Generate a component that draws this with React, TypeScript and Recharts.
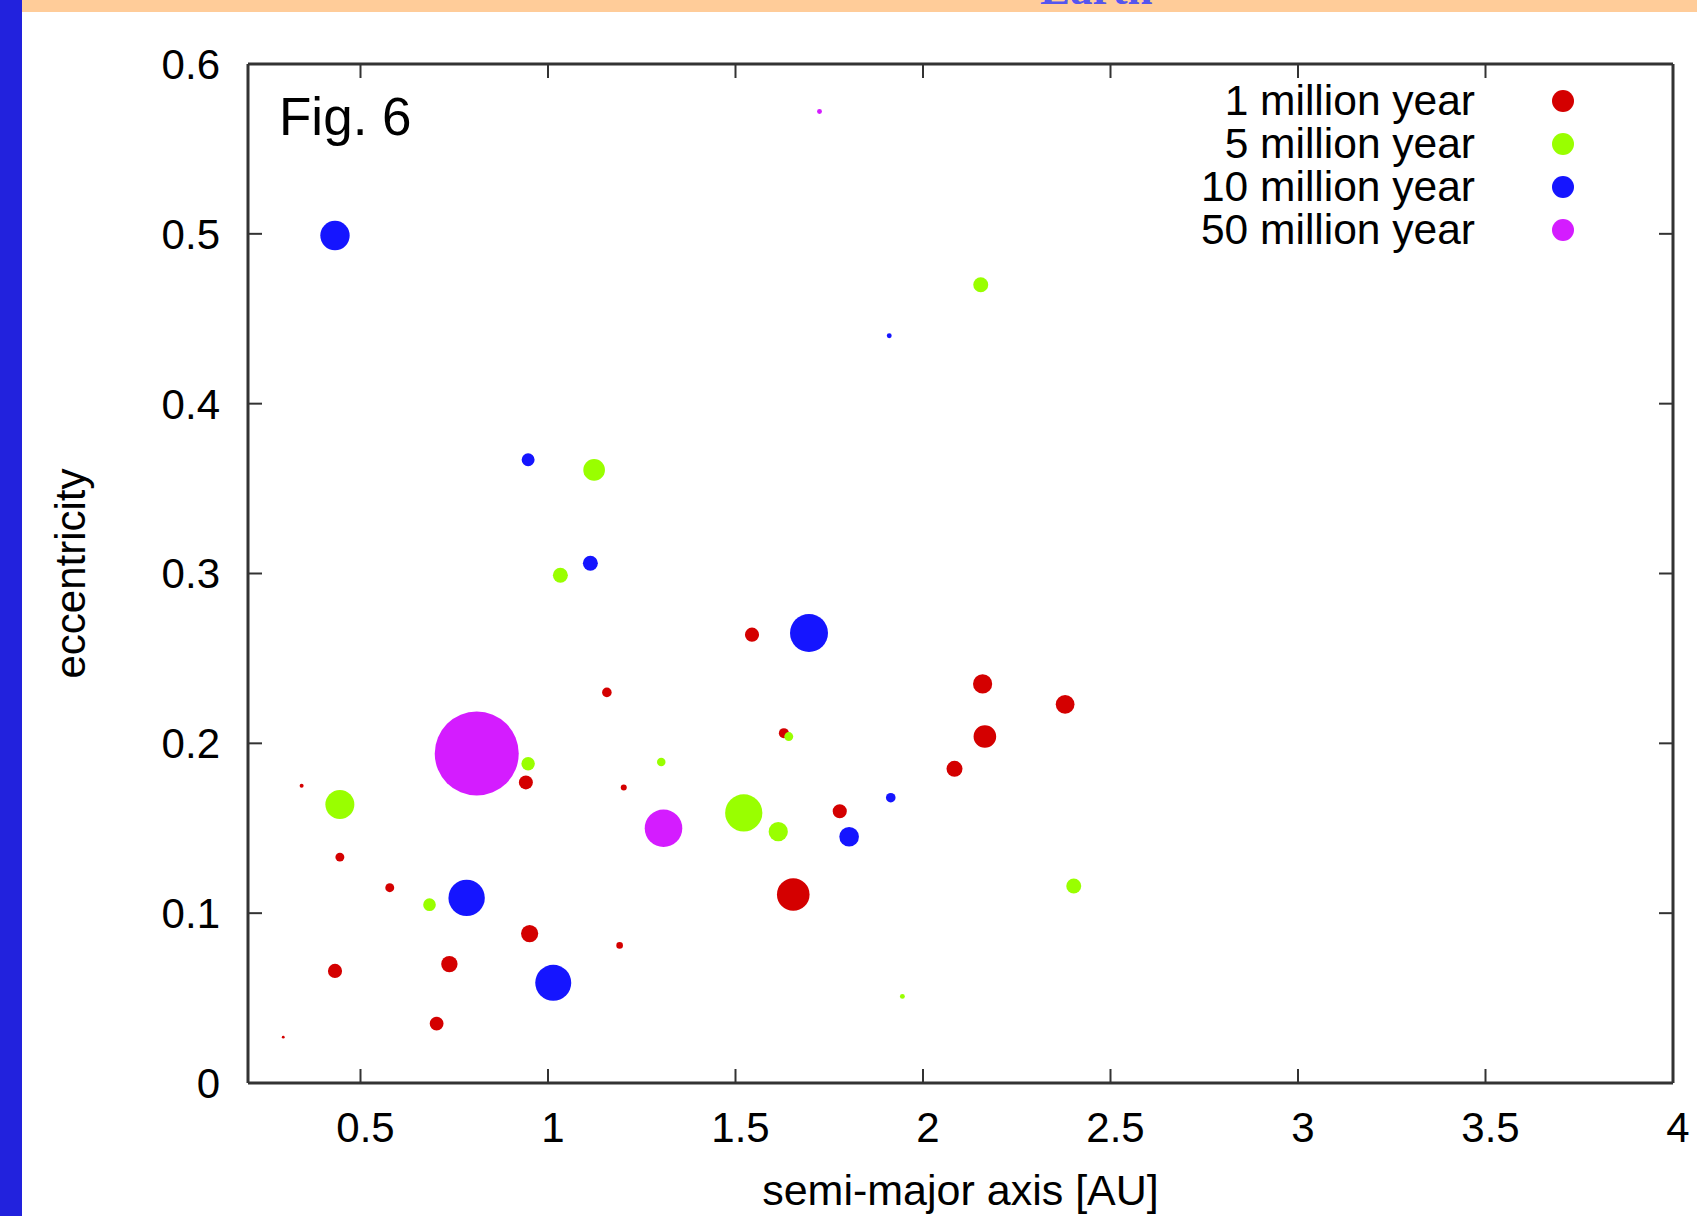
import React from 'react';
import { ScatterChart, Scatter, XAxis, YAxis, ZAxis, Legend } from 'recharts';

// a = semi-major axis [AU], e = eccentricity, m = relative mass (drives bubble area)
const red1My = [
  { a: 0.294, e: 0.027, m: 2 },
  { a: 0.343, e: 0.175, m: 4 },
  { a: 0.432, e: 0.066, m: 50 },
  { a: 0.445, e: 0.133, m: 20 },
  { a: 0.578, e: 0.115, m: 20 },
  { a: 0.703, e: 0.035, m: 48 },
  { a: 0.737, e: 0.07, m: 67 },
  { a: 0.941, e: 0.177, m: 49 },
  { a: 0.951, e: 0.088, m: 74 },
  { a: 1.157, e: 0.23, m: 23 },
  { a: 1.191, e: 0.081, m: 11 },
  { a: 1.202, e: 0.174, m: 9 },
  { a: 1.544, e: 0.264, m: 50 },
  { a: 1.629, e: 0.206, m: 25 },
  { a: 1.654, e: 0.111, m: 266 },
  { a: 1.778, e: 0.16, m: 50 },
  { a: 2.084, e: 0.185, m: 64 },
  { a: 2.159, e: 0.235, m: 92 },
  { a: 2.165, e: 0.204, m: 128 },
  { a: 2.379, e: 0.223, m: 88 },
];

const green5My = [
  { a: 0.445, e: 0.164, m: 210 },
  { a: 0.684, e: 0.105, m: 40 },
  { a: 0.947, e: 0.188, m: 45 },
  { a: 1.033, e: 0.299, m: 56 },
  { a: 1.123, e: 0.361, m: 117 },
  { a: 1.302, e: 0.189, m: 18 },
  { a: 1.522, e: 0.159, m: 346 },
  { a: 1.614, e: 0.148, m: 92 },
  { a: 1.642, e: 0.204, m: 20 },
  { a: 1.945, e: 0.051, m: 6 },
  { a: 2.154, e: 0.47, m: 56 },
  { a: 2.402, e: 0.116, m: 56 },
];

const blue10My = [
  { a: 0.432, e: 0.499, m: 216 },
  { a: 0.783, e: 0.109, m: 331 },
  { a: 0.947, e: 0.367, m: 42 },
  { a: 1.014, e: 0.059, m: 324 },
  { a: 1.113, e: 0.306, m: 56 },
  { a: 1.696, e: 0.265, m: 361 },
  { a: 1.803, e: 0.145, m: 96 },
  { a: 1.91, e: 0.44, m: 6 },
  { a: 1.914, e: 0.168, m: 23 },
];

const magenta50My = [
  { a: 0.81, e: 0.194, m: 1764 },
  { a: 1.308, e: 0.15, m: 353 },
  { a: 1.724, e: 0.572, m: 6 },
];

const seriesNames = ['1 million year', '5 million year', '10 million year', '50 million year'];
const seriesColors = ['#D40000', '#99FF00', '#1515FF', '#D41CFF'];
const seriesData = [red1My, green5My, blue10My, magenta50My];

const xTicks = [0.5, 1, 1.5, 2, 2.5, 3, 3.5, 4];
const yTicks = [0, 0.1, 0.2, 0.3, 0.4, 0.5, 0.6];

const FONT = '"Liberation Sans", Arial, Helvetica, sans-serif';
const frame = { stroke: '#333', strokeWidth: 3 };
const tickLn = { stroke: '#333', strokeWidth: 2 };
const blank = () => '';

function LegendBox({ payload }: any) {
  const items = [...(payload || [])]
    .filter((p: any) => seriesNames.includes(p.value))
    .sort((p: any, q: any) => seriesNames.indexOf(p.value) - seriesNames.indexOf(q.value));
  return (
    <div style={{ fontFamily: FONT, fontSize: 42.5, color: '#000' }}>
      {items.map((it: any) => (
        <div key={it.value} style={{ display: 'flex', alignItems: 'center', height: 43, lineHeight: '43px' }}>
          <span style={{ width: 475, textAlign: 'right', whiteSpace: 'nowrap' }}>{it.value}</span>
          <span
            style={{
              marginLeft: 77,
              width: 22,
              height: 22,
              borderRadius: 11,
              background: it.color,
              display: 'inline-block',
            }}
          />
        </div>
      ))}
    </div>
  );
}

export default function App() {
  return (
    <div style={{ position: 'absolute', left: 0, top: 0, width: 1697, height: 1216, background: '#fff' }}>
      <ScatterChart width={1697} height={1216} margin={{ top: 63, right: 23, bottom: 0, left: 0 }}>
        <XAxis
          xAxisId="bottom"
          type="number"
          dataKey="a"
          domain={[0.2, 4]}
          ticks={xTicks}
          interval={0}
          height={133}
          tickSize={-14}
          tickMargin={43}
          axisLine={frame}
          tickLine={tickLn}
          tick={{ fill: '#000', fontSize: 42, fontFamily: FONT, dx: 5 }}
          label={(p: any) => {
            const vb = p.viewBox || { x: 248, y: 1083, width: 1425 };
            return (
              <text x={vb.x + vb.width / 2} y={vb.y + 122} textAnchor="middle" fontSize={43} fontFamily={FONT} fill="#000">
                semi-major axis [AU]
              </text>
            );
          }}
        />
        <XAxis
          xAxisId="top"
          orientation="top"
          type="number"
          dataKey="a"
          domain={[0.2, 4]}
          ticks={xTicks}
          interval={0}
          height={1}
          tickSize={-14}
          tickMargin={0}
          axisLine={frame}
          tickLine={tickLn}
          tickFormatter={blank}
        />
        <YAxis
          yAxisId="left"
          type="number"
          dataKey="e"
          domain={[0, 0.6]}
          ticks={yTicks}
          interval={0}
          width={248}
          tickSize={-14}
          tickMargin={42}
          axisLine={frame}
          tickLine={tickLn}
          tick={{ fill: '#000', fontSize: 42, fontFamily: FONT }}
          label={(p: any) => {
            const vb = p.viewBox || { x: 0, y: 64, width: 248, height: 1019 };
            const cy = vb.y + vb.height / 2;
            return (
              <text
                x={85}
                y={cy}
                transform={`rotate(-90 85 ${cy})`}
                textAnchor="middle"
                fontSize={42}
                fontFamily={FONT}
                fill="#000"
              >
                eccentricity
              </text>
            );
          }}
        />
        <YAxis
          yAxisId="right"
          orientation="right"
          type="number"
          dataKey="e"
          domain={[0, 0.6]}
          ticks={yTicks}
          interval={0}
          width={1}
          tickSize={-14}
          tickMargin={0}
          axisLine={frame}
          tickLine={tickLn}
          tickFormatter={blank}
        />
        <ZAxis type="number" dataKey="m" domain={[0, 1764]} range={[0, 1764 * Math.PI]} />
        {seriesData.map((d, i) => (
          <Scatter
            key={seriesNames[i]}
            name={seriesNames[i]}
            data={d}
            xAxisId="bottom"
            yAxisId="left"
            fill={seriesColors[i]}
            isAnimationActive={false}
          />
        ))}
        {/* invisible copy bound to the mirror axes so they get a scale and draw their ticks */}
        <Scatter
          name="mirror"
          data={red1My}
          xAxisId="top"
          yAxisId="right"
          fill="none"
          legendType="none"
          isAnimationActive={false}
        />
        <Legend
          layout="horizontal"
          verticalAlign="middle"
          align="center"
          content={<LegendBox />}
          wrapperStyle={{ position: 'absolute', left: 1000, top: 79, width: 600 }}
        />
      </ScatterChart>

      <div
        style={{
          position: 'absolute',
          left: 279,
          top: 90,
          fontFamily: FONT,
          fontSize: 53,
          lineHeight: '53px',
          color: '#000',
          whiteSpace: 'nowrap',
        }}
      >
        Fig. 6
      </div>

      <div style={{ position: 'absolute', left: 22, top: 0, width: 1675, height: 12, background: '#FFCC99', overflow: 'hidden' }}>
        <div
          style={{
            position: 'absolute',
            left: 1018,
            top: -33,
            fontFamily: '"Liberation Serif", "Times New Roman", serif',
            fontWeight: 'bold',
            fontSize: 45,
            lineHeight: '44px',
            color: '#5555EE',
          }}
        >
          Earth
        </div>
      </div>
      <div style={{ position: 'absolute', left: 0, top: 0, width: 22, height: 1216, background: '#2222DD' }} />
    </div>
  );
}
